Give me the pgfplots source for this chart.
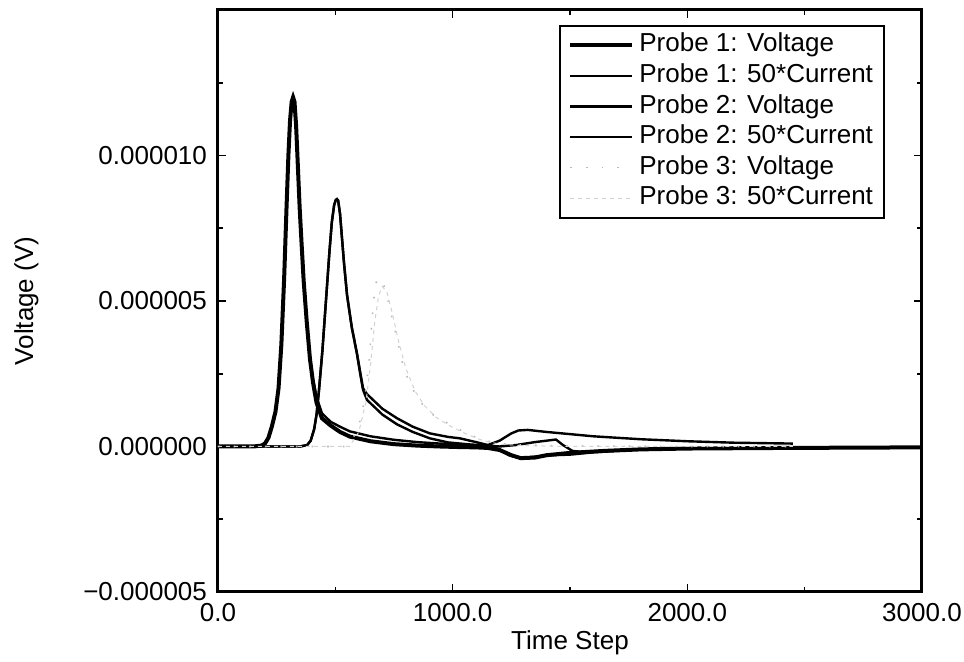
\documentclass[border=0pt]{standalone}
\usepackage{fontspec}
\setmainfont{Liberation Sans}
\usepackage{pgfplots}
\pgfplotsset{compat=1.18}

% voltages and 50*current in units of 1e-6 V
\begin{document}
\fontsize{13}{15.5}\selectfont
\begin{tikzpicture}
\begin{axis}[
    at={(0,0)}, anchor=south west,
    scale only axis, width=352pt, height=291pt,
    xmin=0, xmax=3000, ymin=-5, ymax=15,
    xtick={0,1000,2000,3000},
    xticklabels={0.0,1000.0,2000.0,3000.0},
    minor xtick={500,1500,2500},
    ytick={-5,0,5,10},
    yticklabels={−0.000005,0.000000,0.000005,0.000010},
    minor ytick={-2.5,2.5,7.5,12.5},
    tick align=inside,
    major tick length=4pt, minor tick length=2.5pt,
    every tick/.style={black, line width=0.8pt},
    axis line style={line width=1.5pt},
    xticklabel style={yshift=-1pt},
    yticklabel style={xshift=-1pt},
    xlabel={Time Step}, ylabel={Voltage (V)},
    xlabel style={at={(axis description cs:0.5,-0.0875)}, anchor=center},
    ylabel style={at={(axis description cs:-0.272,0.5)}, anchor=center},
    legend style={at={(rel axis cs:1,1)}, anchor=north east,
        xshift=-18.5pt, yshift=-7.5pt, draw=black, line width=1pt,
        inner xsep=4pt, inner ysep=2pt,
        nodes={text height=9.5pt, text depth=2.8pt, inner sep=1.5pt},
        row sep=0pt,
        /tikz/every odd column/.append style={column sep=1pt}},
    legend cell align=left,
    legend image code/.code={\draw[#1] (0pt,0pt) -- (31pt,0pt);},
]
% Probe 1: Voltage
\addplot[black, line width=2pt] coordinates {
(0,0) (150,0) (185,0.03) (200,0.1) (215,0.3) (230,0.7) (245,1.2) (258,2.0)
(270,3.5) (282,5.8) (292,8.2) (300,10.0) (307,11.2) (314,11.85) (320,12.0)
(326,11.85) (333,11.0) (340,9.7) (348,8.2) (356,7.0) (365,5.7) (378,4.3)
(392,3.0) (405,2.2) (420,1.5) (443,0.97) (480,0.72) (520,0.5) (562,0.34)
(650,0.18) (750,0.08) (850,0.03) (946,0.0) (1031,-0.02) (1100,-0.03)
(1150,-0.05) (1200,-0.12) (1250,-0.3) (1290,-0.4) (1350,-0.38) (1400,-0.3)
(1500,-0.22) (1650,-0.15) (1800,-0.1) (2000,-0.07) (2400,-0.05) (3000,-0.03)
};
% Probe 1: 50*Current
\addplot[black, line width=1.2pt] coordinates {
(0,0) (150,0) (185,0.03) (200,0.1) (215,0.3) (230,0.7) (245,1.2) (258,2.0)
(270,3.5) (282,5.8) (292,8.2) (300,10.0) (307,11.2) (314,11.85) (320,12.0)
(326,11.85) (333,11.0) (340,9.7) (348,8.2) (356,7.0) (365,5.7) (378,4.3)
(392,3.0) (405,2.3) (420,1.7) (443,1.14) (480,0.85) (520,0.68) (562,0.52)
(650,0.35) (750,0.23) (850,0.15) (946,0.1) (1031,0.07) (1100,0.04)
(1150,0.05) (1200,0.2) (1250,0.45) (1280,0.55) (1320,0.57) (1400,0.5)
(1600,0.35) (1800,0.25) (2000,0.18) (2200,0.13) (2450,0.1)
};
% Probe 2: Voltage
\addplot[black, line width=1.2pt] coordinates {
(0,0) (350,0) (380,0.05) (395,0.2) (410,0.6) (420,1.1) (430,1.9) (445,3.3)
(460,5.0) (475,6.7) (485,7.7) (495,8.3) (502,8.47) (507,8.5) (512,8.45)
(520,8.0) (528,7.2) (537,6.3) (550,5.2) (570,4.1) (592,3.2) (605,2.55)
(618,1.95) (635,1.6) (700,1.1) (763,0.76) (830,0.5) (903,0.28) (980,0.14)
(1074,0.07) (1150,0.03) (1200,0.0) (1270,0.05) (1350,0.15) (1440,0.24)
(1470,0.05) (1510,-0.15) (1560,-0.2) (1650,-0.15) (1800,-0.1) (2100,-0.06)
(2450,-0.05)
};
% Probe 2: 50*Current
\addplot[black, line width=1.2pt] coordinates {
(0,0) (350,0) (380,0.05) (395,0.2) (410,0.6) (420,1.1) (430,1.9) (445,3.3)
(460,5.0) (475,6.7) (485,7.7) (495,8.3) (502,8.47) (507,8.5) (512,8.45)
(520,8.0) (528,7.2) (537,6.3) (550,5.2) (570,4.1) (592,3.2) (605,2.6)
(618,2.0) (635,1.8) (700,1.3) (763,0.97) (830,0.68) (903,0.45) (980,0.33)
(1031,0.28) (1100,0.15) (1150,0.05) (1200,-0.1) (1240,-0.3) (1290,-0.4)
(1350,-0.35) (1420,-0.3) (1500,-0.28) (1600,-0.2) (1800,-0.1) (2100,-0.06)
(2450,-0.04)
};
% Probe 3: Voltage
\addplot[gray!55, line width=0.8pt, dash pattern=on 0.8pt off 7pt] coordinates {
(0,0) (540,0) (570,0.2) (600,0.7) (625,1.6) (645,3.0) (655,4.2) (663,5.0)
(672,5.6) (685,5.8) (700,5.7) (720,5.2) (745,4.3) (763,3.7) (788,2.8)
(815,2.2) (848,1.7) (885,1.3) (920,1.07) (988,0.76) (1060,0.45) (1130,0.22)
(1200,0.1) (1300,0.05) (1500,0.02) (2000,0) (2450,0)
};
% Probe 3: 50*Current
\addplot[gray!35, line width=0.5pt, dash pattern=on 2pt off 2pt] coordinates {
(0,0) (560,0) (600,0.5) (630,1.5) (650,2.8) (668,4.3) (685,5.2) (700,5.5)
(720,5.3) (745,4.5) (770,3.6) (800,2.7) (840,1.9) (880,1.4) (930,1.0)
(990,0.7) (1060,0.42) (1130,0.2) (1200,0.08) (1300,0.03) (1500,0.0) (2450,0)
};
\legend{Probe 1: Voltage, Probe 1: 50*Current, Probe 2: Voltage,
        Probe 2: 50*Current, Probe 3: Voltage, Probe 3: 50*Current}
\end{axis}
\pgfresetboundingbox
\useasboundingbox (-109pt,-35pt) rectangle (373pt,296pt);
\end{tikzpicture}
\end{document}
